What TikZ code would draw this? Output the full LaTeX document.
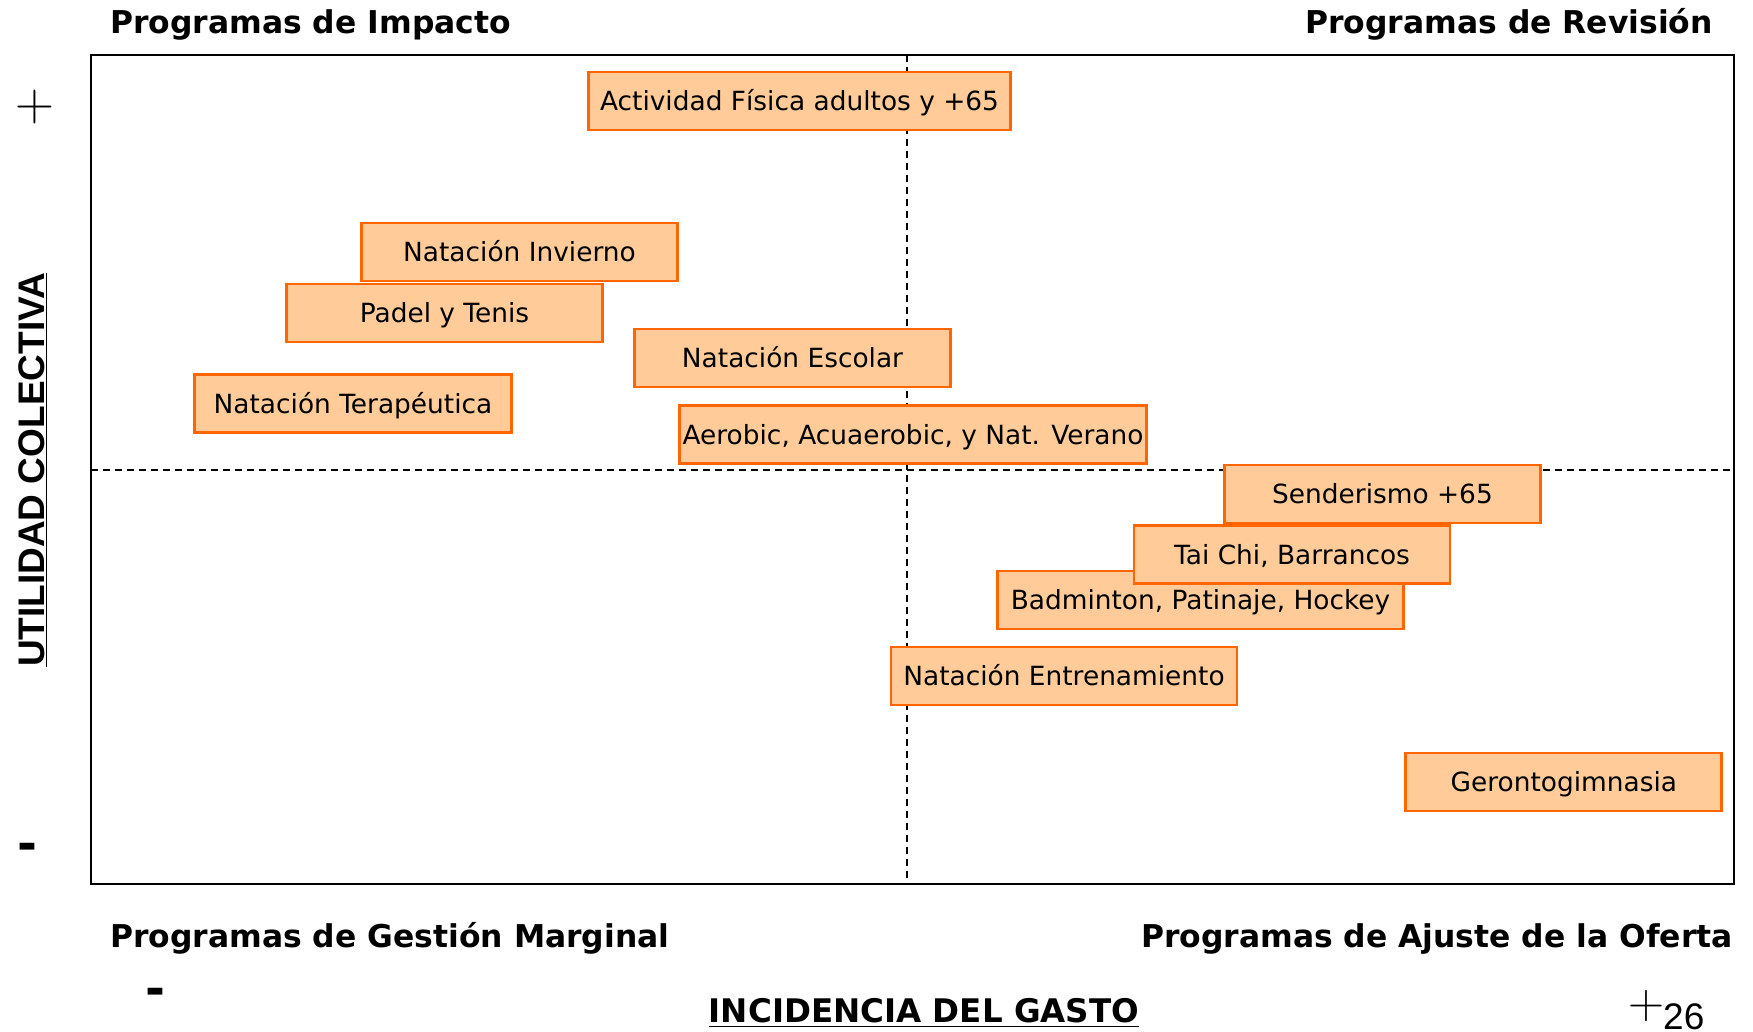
\documentclass[tikz,border=0pt]{standalone}
\usepackage{fontspec}
\setmainfont{DejaVu Sans}
\newfontfamily\arialfont{Liberation Sans}
\newfontfamily\lmfont{Latin Modern Roman}
\definecolor{progfill}{HTML}{FFCC99}
\definecolor{progline}{HTML}{FF6600}
\tikzset{
  prog/.style={draw=progline, fill=progfill, line width=2.7pt, minimum height=58pt,
    inner sep=0pt, text=black, text height=19.2pt, text depth=0pt,
    font=\fontsize{26.4}{30}\selectfont},
  quad/.style={font=\fontsize{31.4}{36}\bfseries\selectfont, inner sep=0pt},
  signo/.style={inner sep=0pt, anchor=base, font=\fontsize{48}{48}\bfseries\selectfont},
  axis/.style={dash pattern=on 7pt off 5pt, line width=1.6pt}
}
\begin{document}
\begin{tikzpicture}[x=1pt,y=-1pt]
    \useasboundingbox (0,0) rectangle (1753,1031);
    \coordinate (tl) at (91,55);
    \coordinate (br) at (1734,884);
    \coordinate (vt) at (907,55);
    \coordinate (vb) at (907,884);
    \coordinate (hl) at (91,470);
    \coordinate (hr) at (1734,470);
    \draw[axis] (vt)--(vb);
    \draw[axis] (hl)--(hr);
    \draw[line width=2.4pt] (tl) rectangle (br);
    \node[prog, minimum width=422pt] (afa) at (799.5,101) {Actividad Física adultos y +65};
    \node[prog, minimum width=316pt] (ninv) at (519.5,252) {Natación Invierno};
    \node[prog, minimum width=316pt] (pyt) at (444.5,313) {Padel y Tenis};
    \node[prog, minimum width=316pt] (nesc) at (792.5,358) {Natación Escolar};
    \node[prog, minimum width=317pt] (nter) at (353,403.5) {Natación Terapéutica};
    \node[prog, minimum width=467pt] (aer) at (913,434.5) {Aerobic, Acuaerobic, y Nat. Verano};
    \node[prog, minimum width=316pt] (send) at (1382.5,494) {Senderismo +65};
    \node[prog, minimum width=406pt] (bad) at (1200.5,600) {Badminton, Patinaje, Hockey};
    \node[prog, minimum width=316pt] (tai) at (1292,554.7) {Tai Chi, Barrancos};
    \node[prog, minimum width=346pt] (nent) at (1064,676) {Natación Entrenamiento};
    \node[prog, minimum width=316pt] (ger) at (1563.8,782) {Gerontogimnasia};
    \node[quad, anchor=base west] (imp) at (110,33) {Programas de Impacto};
    \node[quad, anchor=base east] (rev) at (1713,33) {Programas de Revisión};
    \node[quad, anchor=base west] (gm) at (110,947) {Programas de Gestión Marginal};
    \node[quad, anchor=base east] (ajo) at (1733,947) {Programas de Ajuste de la Oferta};
    \node[inner sep=0pt, font=\lmfont\fontsize{54}{54}\selectfont] (umas) at (35,107) {+};
    \node[signo] (umenos) at (27,860) {-};
    \node[signo] (imenos) at (155,1005) {-};
    \node[inner sep=0pt, rotate=90, font=\arialfont\fontsize{37}{40}\bfseries\selectfont] (util) at (33,470) {\underline{UTILIDAD COLECTIVA}};
    \node[inner sep=0pt, anchor=base, font=\fontsize{32.5}{36}\bfseries\selectfont] (inc) at (924,1022) {\underline{INCIDENCIA DEL GASTO\vrule width 0pt depth 3pt}};
    \node[inner sep=0pt, font=\lmfont\fontsize{50}{50}\selectfont] (imas) at (1646,1006) {+};
    \node[inner sep=0pt, anchor=base west, font=\arialfont\fontsize{37}{40}\selectfont] (pag) at (1663,1029) {26};
\end{tikzpicture}
\end{document}
